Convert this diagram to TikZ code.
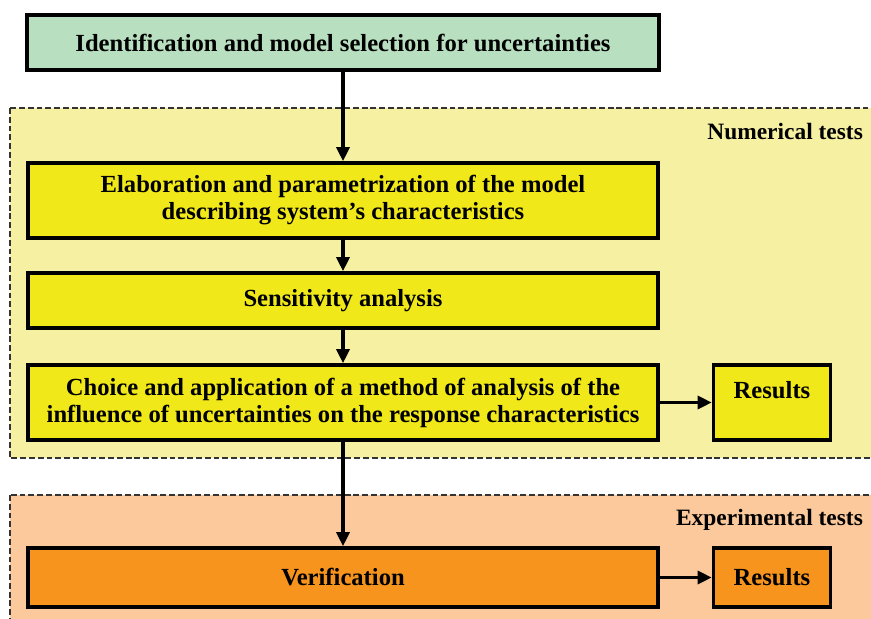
\documentclass[tikz,border=0pt]{standalone}
\usepackage{fontspec}
\setmainfont{Liberation Serif}
\usepackage{xcolor}
\usepackage{tikz}
\usetikzlibrary{positioning, arrows.meta}

\definecolor{idgreen}{HTML}{B8DFC0}
\definecolor{numzone}{HTML}{F6F1A2}
\definecolor{numbox}{HTML}{F1E81A}
\definecolor{expzone}{HTML}{FBC99C}
\definecolor{expbox}{HTML}{F7941E}

\begin{document}
\begin{tikzpicture}[x=0.03cm, y=-0.03cm,
    stage/.style={draw, line width=3pt, minimum width=630*0.03cm, align=center,
      font=\bfseries\fontsize{21}{23}\selectfont},
    resbox/.style={draw, line width=3pt, minimum width=117*0.03cm,
      font=\bfseries\fontsize{21}{23}\selectfont},
    zone/.style={draw=black!80, line width=1.5pt, dash pattern=on 5pt off 2.5pt},
    zonetitle/.style={anchor=east, font=\bfseries\fontsize{20}{23}\selectfont},
    arr/.style={-{Triangle[length=12pt, width=11pt]}, line width=3pt}]
      \clip (0, 0) rectangle (871, 619);

      % Test zones
      \draw[zone, fill=numzone] (10, 108) rectangle (880, 458);
      \draw[zone, fill=expzone] (10, 495) rectangle (880, 630);
      \node[zonetitle] (numtitle) at (867, 132) {Numerical tests};
      \node[zonetitle] (exptitle) at (867, 520) {Experimental tests};

      % Stages
      \node[stage, fill=idgreen, minimum width=632*0.03cm, minimum height=55*0.03cm] (ident) at (343, 42.5)
        {Identification and model selection for uncertainties};
      \node[stage, fill=numbox, minimum height=75*0.03cm] (elab) at (343, 200.5)
        {Elaboration and parametrization of the model\\describing system’s characteristics};
      \node[stage, fill=numbox, minimum height=55*0.03cm] (sens) at (343, 300.5)
        {Sensitivity analysis};
      \node[stage, fill=numbox, minimum height=75*0.03cm] (choice) at (343, 402.5)
        {Choice and application of a method of analysis of the\\influence of uncertainties on the response characteristics};
      \node[stage, fill=expbox, minimum height=59*0.03cm] (verif) at (343, 577.5)
        {Verification};

      % Results
      \node[resbox, fill=numbox, minimum height=75*0.03cm, text depth=22pt] (res1) at (772, 402.5) {Results};
      \node[resbox, fill=expbox, minimum height=59*0.03cm] (res2) at (772, 577.5) {Results};

      \draw[arr] (ident) -- (elab);
      \draw[arr] (elab) -- (sens);
      \draw[arr] (sens) -- (choice);
      \draw[arr] (choice) -- (verif);
      \draw[arr] (choice) -- (res1);
      \draw[arr] (verif) -- (res2);
    \end{tikzpicture}
\end{document}
